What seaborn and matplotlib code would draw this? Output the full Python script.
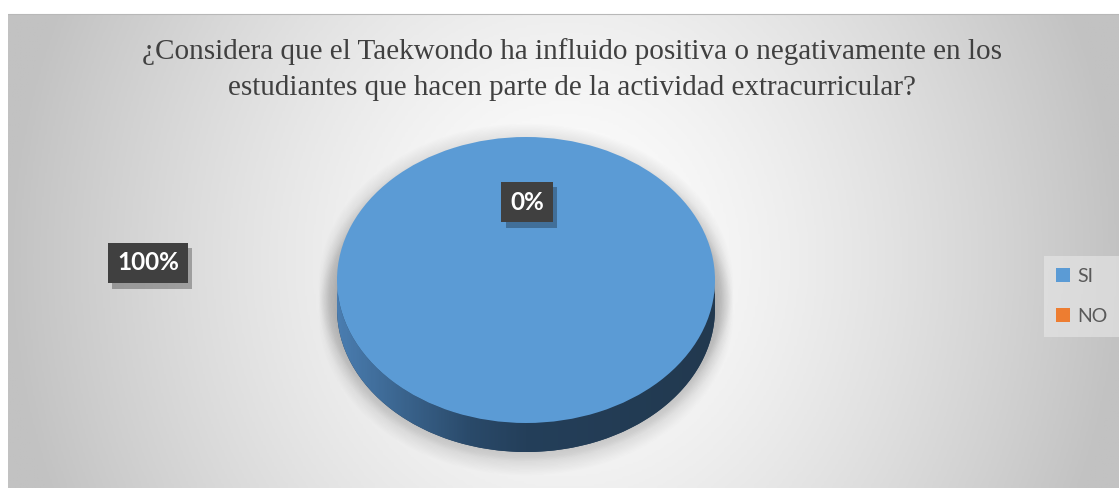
import numpy as np
import matplotlib
matplotlib.use("Agg")
import matplotlib.pyplot as plt
import matplotlib.patheffects as pe
import seaborn as sns
from matplotlib.colors import LinearSegmentedColormap
from matplotlib.patches import Ellipse, Polygon

# data
categories = ["SI", "NO"]
values = [100, 0]
title_lines = ["¿Considera que el Taekwondo ha influido positiva o negativamente en los",
               "estudiantes que hacen parte de la actividad extracurricular?"]
label_pos = [(148, 263), (527, 202)]   # where Excel left the data labels (pixels)

sns.set_theme(style="white")
plt.rcParams['font.family'] = ['Lato', 'DejaVu Sans']

top_colors = ["#5B9BD5", "#ED7D31"]
side_colors = ["#243F5A", "#7a3d18"]

fig = plt.figure(figsize=(11.19, 4.88), dpi=100)

# background axes in pixel coords
bg = fig.add_axes([0, 0, 1, 1])
bg.set_xlim(0, 1119)
bg.set_ylim(488, 0)
bg.axis('off')

# radial-ish grey gradient of the chart area
xs = np.linspace(8, 1119, 400)
ys = np.linspace(14, 488, 200)
X, Y = np.meshgrid(xs, ys)
r = np.sqrt(((X - 565) / 560) ** 2 + ((Y - 260) / 620) ** 2)
v = np.clip(r, 0, 1) ** 1.4
bg_cmap = LinearSegmentedColormap.from_list("bg", ["#ffffff", "#c2c2c2"])
bg.imshow(v, cmap=bg_cmap, vmin=0, vmax=1, extent=(8, 1119, 488, 14),
          aspect='auto', zorder=0)
bg.plot([8, 1119], [14, 14], color="#b8b8b8", lw=0.8, zorder=1)

for y, line in zip([52, 88], title_lines):
    bg.text(572, y, line, ha='center', va='center',
            family='Liberation Serif', fontsize=21, color='#404040')

# pie axes: unit radius -> 189 px wide, 143 px tall
rx, ry = 189, 143
depth = 29 / ry
pax = fig.add_axes([290 / 1119, (488 - 480) / 488, 472 / 1119, 360 / 488])

# soft shadow around the cylinder
for i in range(14):
    grow = (14 - i) * 1.3
    for cy in np.linspace(0, -depth, 3):
        pax.add_patch(Ellipse((0, cy - 5 / ry), 2 * (1 + grow / rx), 2 * (1 + grow / ry),
                              facecolor='#808080', edgecolor='none', alpha=0.014, zorder=0))

# side of the cylinder
pax.pie(values, colors=side_colors, startangle=90, counterclock=False,
        center=(0, -depth), wedgeprops=dict(linewidth=0, zorder=1))
t = np.linspace(np.pi, 2 * np.pi, 200)
band = np.concatenate([np.c_[np.cos(t), np.sin(t)],
                       np.c_[np.cos(t[::-1]), np.sin(t[::-1]) - depth]])
band_patch = Polygon(band, closed=True, facecolor='none', edgecolor='none')
pax.add_patch(band_patch)
side_cmap = LinearSegmentedColormap.from_list(
    "side", [(0, "#4a7db0"), (0.35, "#2a4a6a"), (0.5, "#243F5A"), (1, "#22394f")])
grad = np.linspace(0, 1, 300)[None, :]
im = pax.imshow(grad, cmap=side_cmap, extent=(-1, 1, -1 - depth, 0.1),
                aspect='auto', zorder=2)
im.set_clip_path(band_patch)

# top of the cylinder
wedges, _ = pax.pie(values, colors=top_colors, startangle=90, counterclock=False,
                    wedgeprops=dict(linewidth=0, zorder=3))
for w in wedges:
    w.set_zorder(3)

pax.set_aspect('auto')
pax.set_xlim(-236 / rx, 236 / rx)
pax.set_ylim(-200 / ry, 160 / ry)
pax.axis('off')

# overlay axes for labels and legend
fg = fig.add_axes([0, 0, 1, 1])
fg.set_xlim(0, 1119)
fg.set_ylim(488, 0)
fg.axis('off')
fg.patch.set_alpha(0)

# data labels with dark boxes
total = sum(values)
for (x, y), val in zip(label_pos, values):
    lbl = fg.text(x, y, f"{val / total:.0%}", ha='center', va='center', fontsize=17.5,
                  fontweight='bold', color='white', zorder=5,
                  bbox=dict(boxstyle='square,pad=0.36', facecolor='#404040',
                            edgecolor='none', linewidth=0))
    lbl.get_bbox_patch().set_path_effects(
        [pe.SimplePatchShadow(offset=(3, -4), shadow_rgbFace='black', alpha=0.28),
         pe.Normal()])

leg = fg.legend(wedges, categories, loc='upper left', bbox_to_anchor=(1044, 256),
                bbox_transform=fg.transData, borderaxespad=0, fontsize=14,
                frameon=True, fancybox=False, labelspacing=1.2,
                handlelength=0.75, handleheight=0.75, handletextpad=0.35,
                borderpad=0.6, labelcolor='#595959')
leg.get_frame().set_facecolor('#e8e8e8')
leg.get_frame().set_alpha(0.6)
leg.get_frame().set_edgecolor('none')

fig.savefig("out.png", dpi=100)
